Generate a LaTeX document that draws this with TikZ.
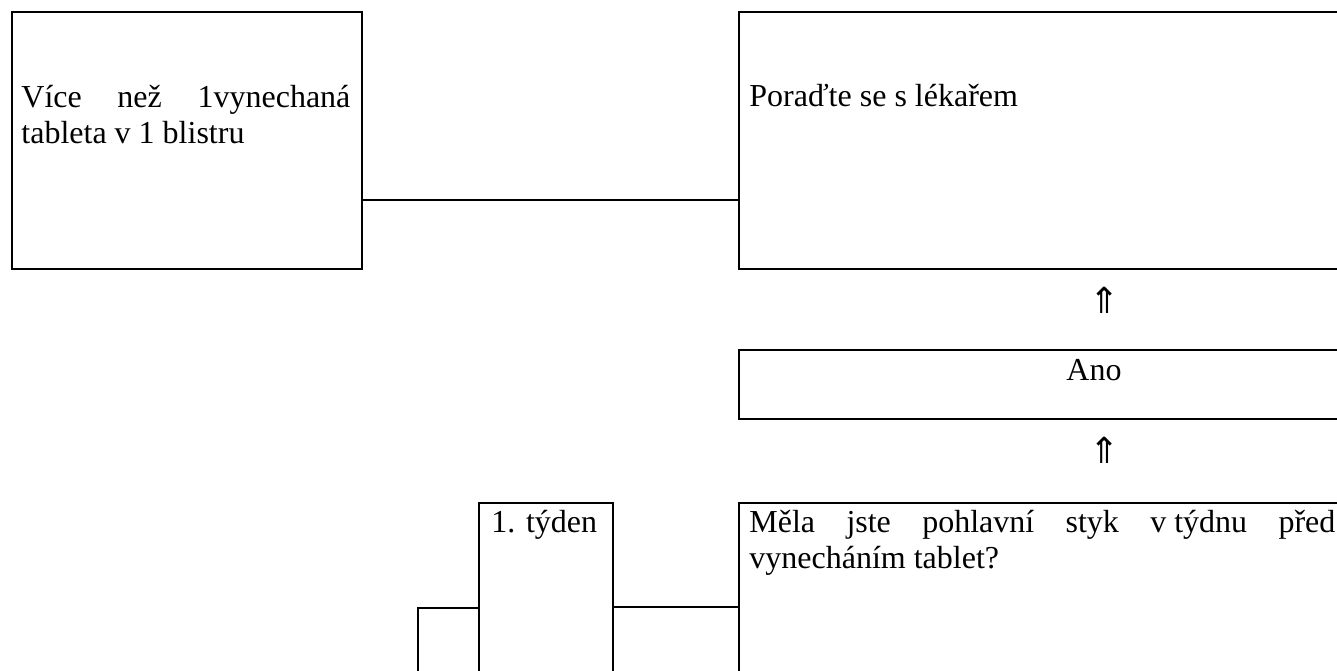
\documentclass[tikz,border=0pt]{standalone}
\usepackage{fontspec}
\setmainfont{Liberation Serif}
\newfontfamily\arrowfont{DejaVu Sans}
\begin{document}
\begin{tikzpicture}[x=0.5pt,y=-0.5pt,
  box/.style={draw, line width=1pt, inner sep=0pt, anchor=north west},
  txt/.style={inner sep=0pt, anchor=base west, font=\fontsize{16pt}{18pt}\selectfont},
  arr/.style={inner sep=0pt, anchor=center, font=\arrowfont\fontsize{18pt}{20pt}\selectfont},
  conn/.style={line width=1pt}]
\useasboundingbox (0,0) rectangle (1337,670);
\clip (0,0) rectangle (1337,670);
% boxes
\node[box, minimum width=175pt, minimum height=128.5pt] (A) at (11,11) {};
\node[box, minimum width=310pt, minimum height=128.5pt] (B) at (738,11) {};
\node[box, minimum width=310pt, minimum height=34.5pt] (ano) at (738,349) {};
\node[box, minimum width=30.5pt, minimum height=50pt] (S) at (417,607) {};
\node[box, fill=white, minimum width=67pt, minimum height=100pt] (T) at (478,502) {};
\node[box, minimum width=310pt, minimum height=100pt] (M) at (738,502) {};
% texts
\node[txt] (tA) at (21,107) {\parbox[t]{164.5pt}{\makebox[164.5pt][s]{Více než 1vynechaná}\\tableta v 1 blistru}};
\node[txt] (tB) at (749,106) {Poraďte se s lékařem};
\node[txt, anchor=base] (tAno) at (1094,380) {Ano};
\node[txt] (tT) at (491,532) {1. týden};
\node[txt] (tM) at (749,532) {\parbox[t]{293pt}{\makebox[293pt][s]{Měla jste pohlavní styk \hbox{v týdnu} před}\\vynecháním tablet?}};
% arrows
\node[arr] (up1) at (1105,300) {⇑};
\node[arr] (up2) at (1105,450) {⇑};
% connectors
\draw[conn] (A.east |- 0,200) -- (B.west |- 0,200);
\draw[conn] (T.east |- 0,607) -- (M.west |- 0,607);
\end{tikzpicture}
\end{document}
